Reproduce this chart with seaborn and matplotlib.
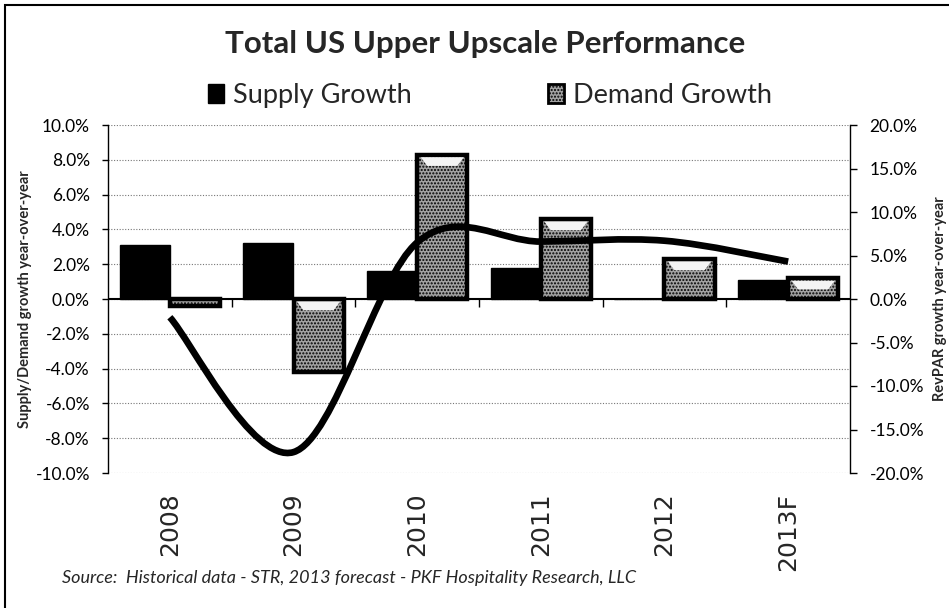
import numpy as np
import pandas as pd
import matplotlib
matplotlib.use('Agg')
import matplotlib.pyplot as plt
import seaborn as sns
from matplotlib.path import Path
from matplotlib.patches import PathPatch, Polygon, Patch, Rectangle

# data
years = ['2008', '2009', '2010', '2011', '2012', '2013F']
supply_growth = [3.1, 3.2, 1.6, 1.8, 0.0, 1.1]
demand_growth = [-0.4, -4.2, 8.3, 4.6, 2.3, 1.2]
revpar_growth = [-2.1, -17.6, 6.5, 6.6, 6.7, 4.3]

left_ticks = [-10, -8, -6, -4, -2, 0, 2, 4, 6, 8, 10]
right_ticks = [-20, -15, -10, -5, 0, 5, 10, 15, 20]

title = 'Total US Upper Upscale Performance'
series_names = ['Supply Growth', 'Demand Growth']
left_label = 'Supply/Demand growth year-over-year'
right_label = 'RevPAR growth year-over-year'
source = 'Source:  Historical data - STR, 2013 forecast - PKF Hospitality Research, LLC'

df = pd.DataFrame({
    'year': years * 2,
    'series': [series_names[0]] * len(years) + [series_names[1]] * len(years),
    'value': supply_growth + demand_growth,
})

sns.set_style('white')
plt.rcParams['font.family'] = ['Lato', 'DejaVu Sans']


def smooth_path(xs, ys):
    # excel-like smoothed line: cubic bezier through the points
    pts = list(zip(xs, ys))
    n = len(pts)
    verts = [pts[0]]
    codes = [Path.MOVETO]
    for i in range(n - 1):
        p0 = pts[i - 1] if i > 0 else pts[i]
        p1 = pts[i]
        p2 = pts[i + 1]
        p3 = pts[i + 2] if i + 2 < n else pts[i + 1]
        c1 = (p1[0] + (p2[0] - p0[0]) / 6, p1[1] + (p2[1] - p0[1]) / 6)
        c2 = (p2[0] - (p3[0] - p1[0]) / 6, p2[1] - (p3[1] - p1[1]) / 6)
        verts += [c1, c2, p2]
        codes += [Path.CURVE4] * 3
    return Path(verts, codes)


fig = plt.figure(figsize=(9.49, 6.08), dpi=100)
ax = fig.add_axes([108 / 949, 1 - 473 / 608, 742 / 949, 348 / 608])

sns.barplot(data=df, x='year', y='value', hue='series', palette=['black', '#a2a2a2'],
            width=0.81, ax=ax, legend=False, saturation=1)

for bar in ax.containers[0]:
    bar.set_edgecolor('black')
    bar.set_linewidth(1)
for bar in ax.containers[1]:
    bar.set_edgecolor('black')
    bar.set_linewidth(3.2)
    bar.set_hatch('.....')
    h = bar.get_height()
    if abs(h) > 0.8:
        # light bevel at the upper edge of each demand bar
        x0, w = bar.get_x(), bar.get_width()
        top = max(h, 0) - 0.15
        ax.add_patch(Polygon([(x0 + 0.07 * w, top), (x0 + 0.93 * w, top),
                              (x0 + 0.8 * w, top - 0.5), (x0 + 0.2 * w, top - 0.5)],
                             closed=True, facecolor='#f4f4f4', edgecolor='none', zorder=3))

ax.set_xlim(-0.5, len(years) - 0.5)
ax.set_ylim(left_ticks[0], left_ticks[-1])
ax.set_yticks(left_ticks)
ax.set_yticklabels([f'{v:.1f}%' for v in left_ticks], fontsize=12.5)
ax.set_xlabel('')
ax.set_ylabel('')
ax.set_axisbelow(True)
ax.yaxis.grid(True, linestyle=(0, (1, 1.5)), color='#777777', linewidth=0.8)
ax.xaxis.grid(False)
ax.axhline(0, color='black', linewidth=1.5, zorder=2.5)
ax.vlines(np.arange(len(years) - 1) + 0.5, -0.45, 0, color='black', linewidth=1, zorder=2.5)

ax.tick_params(axis='x', length=0, pad=14)
for lab in ax.get_xticklabels():
    lab.set_rotation(90)
    lab.set_fontfamily('DejaVu Sans')
    lab.set_fontsize(18)
ax.tick_params(axis='y', left=True, length=4, width=1, pad=9, colors='black')

for s in ['top', 'bottom', 'right']:
    ax.spines[s].set_visible(False)
ax.spines['left'].set_color('black')
ax.spines['left'].set_linewidth(1)

ax2 = ax.twinx()
ax2.set_ylim(right_ticks[0], right_ticks[-1])
ax2.set_yticks(right_ticks)
ax2.set_yticklabels([f'{v:.1f}%' for v in right_ticks], fontsize=12.5)
ax2.tick_params(axis='y', right=True, length=5, width=1, pad=9, colors='black')
ax2.grid(False)
for s in ['top', 'bottom', 'left']:
    ax2.spines[s].set_visible(False)
ax2.spines['right'].set_color('black')
ax2.spines['right'].set_linewidth(1)

line = smooth_path(np.arange(len(years)), revpar_growth)
ax2.add_patch(PathPatch(line, facecolor='none', edgecolor='black', linewidth=4.8,
                        capstyle='butt', joinstyle='round'))

fig.text(485 / 949, 1 - 44 / 608, title, ha='center', va='center',
         fontsize=22.5, fontweight='bold')

handles = [Patch(facecolor='black', edgecolor='black'),
           Patch(facecolor='#a2a2a2', edgecolor='black', hatch='.....', linewidth=2)]
fig.legend(handles, series_names, loc='center', bbox_to_anchor=(490 / 949, 1 - 95 / 608),
           ncol=2, frameon=False, fontsize=19.5, handlelength=0.6, handleheight=0.7,
           handletextpad=0.35, columnspacing=5.0)

fig.text(25 / 949, 1 - 299 / 608, left_label, rotation=90, ha='center', va='center',
         fontsize=10.5, fontweight='bold')
fig.text(940 / 949, 1 - 299 / 608, right_label, rotation=90, ha='center', va='center',
         fontsize=10.5, fontweight='bold')
fig.text(62 / 949, 1 - 578 / 608, source, ha='left', va='center', fontsize=13,
         fontstyle='italic')

fig.patches.append(Rectangle((5 / 949, -0.05), 1.1, 1.05 - 5 / 608, transform=fig.transFigure,
                             fill=False, edgecolor='black', linewidth=1.5))

fig.savefig('out.png', dpi=100)
